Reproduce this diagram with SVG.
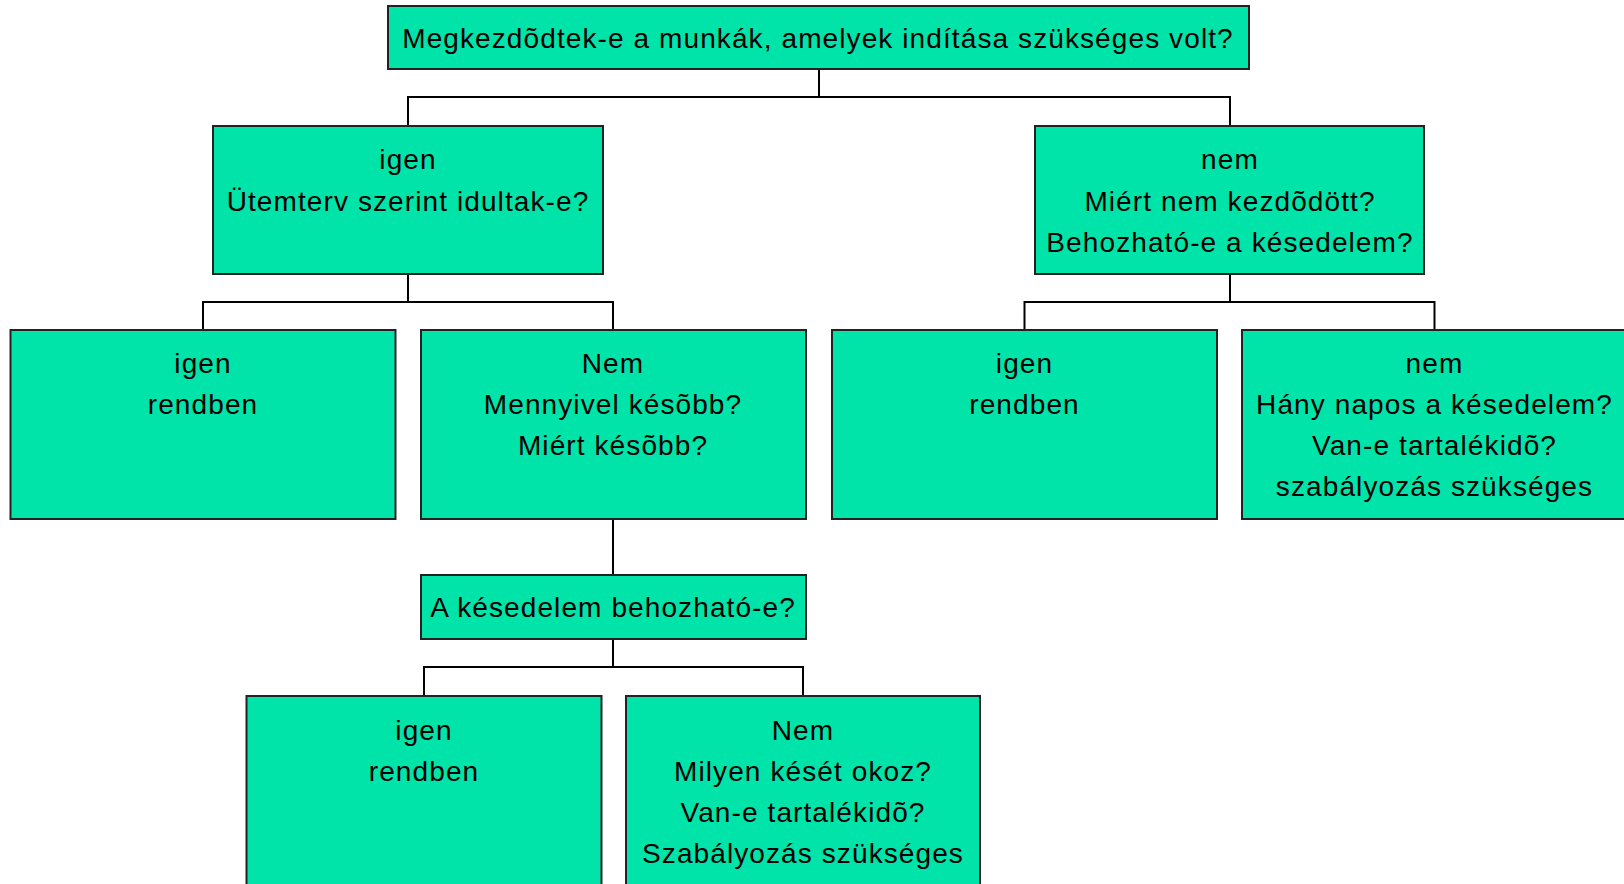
<svg xmlns="http://www.w3.org/2000/svg" width="1624" height="884" viewBox="0 0 1624 884">
<style>
.box{fill:#00E4AA;stroke:#222;stroke-width:2}
.t{font-family:"Liberation Sans",Arial,sans-serif;font-size:28px;letter-spacing:1.1px;fill:#000;text-anchor:middle}
.c{fill:none;stroke:#000;stroke-width:2}
</style>
<rect width="1624" height="884" fill="#fff"/>
<g id="connectors">
<path class="c" d="M819 69V97M408 126V97H1230V126"/>
<path class="c" d="M408 274V302M203 330V302H613V330"/>
<path class="c" d="M1230 274V302M1024.5 330V302H1434.5V330"/>
<path class="c" d="M613 519V575"/>
<path class="c" d="M613 639V667M424 696V667H803V696"/>
</g>
<g id="n0"><rect class="box" x="388" y="6" width="861" height="63"/>
<text class="t" x="818" y="48">Megkezdõdtek-e a munkák, amelyek indítása szükséges volt?</text></g>
<g id="n1"><rect class="box" x="213" y="126" width="390" height="148"/>
<text class="t" x="408" y="169">igen</text><text class="t" x="408" y="210.5">Ütemterv szerint idultak-e?</text></g>
<g id="n2"><rect class="box" x="1035" y="126" width="389" height="148"/>
<text class="t" x="1230" y="169">nem</text><text class="t" x="1230" y="210.5">Miért nem kezdõdött?</text><text class="t" x="1230" y="252">Behozható-e a késedelem?</text></g>
<g id="n3"><rect class="box" x="10.5" y="330" width="385" height="189"/>
<text class="t" x="203" y="373">igen</text><text class="t" x="203" y="414">rendben</text></g>
<g id="n4"><rect class="box" x="421" y="330" width="385" height="189"/>
<text class="t" x="613" y="373">Nem</text><text class="t" x="613" y="414">Mennyivel késõbb?</text><text class="t" x="613" y="455">Miért késõbb?</text></g>
<g id="n5"><rect class="box" x="832" y="330" width="385" height="189"/>
<text class="t" x="1024.5" y="373">igen</text><text class="t" x="1024.5" y="414">rendben</text></g>
<g id="n6"><rect class="box" x="1242" y="330" width="386" height="189"/>
<text class="t" x="1434.5" y="373">nem</text><text class="t" x="1434.5" y="414">Hány napos a késedelem?</text><text class="t" x="1434.5" y="455">Van-e tartalékidõ?</text><text class="t" x="1434.5" y="496">szabályozás szükséges</text></g>
<g id="n7"><rect class="box" x="421" y="575" width="385" height="64"/>
<text class="t" x="613" y="617">A késedelem behozható-e?</text></g>
<g id="n8"><rect class="box" x="246.5" y="696" width="355" height="200"/>
<text class="t" x="424" y="740">igen</text><text class="t" x="424" y="781">rendben</text></g>
<g id="n9"><rect class="box" x="626" y="696" width="354" height="200"/>
<text class="t" x="803" y="740">Nem</text><text class="t" x="803" y="781">Milyen kését okoz?</text><text class="t" x="803" y="822">Van-e tartalékidõ?</text><text class="t" x="803" y="863">Szabályozás szükséges</text></g>
</svg>
